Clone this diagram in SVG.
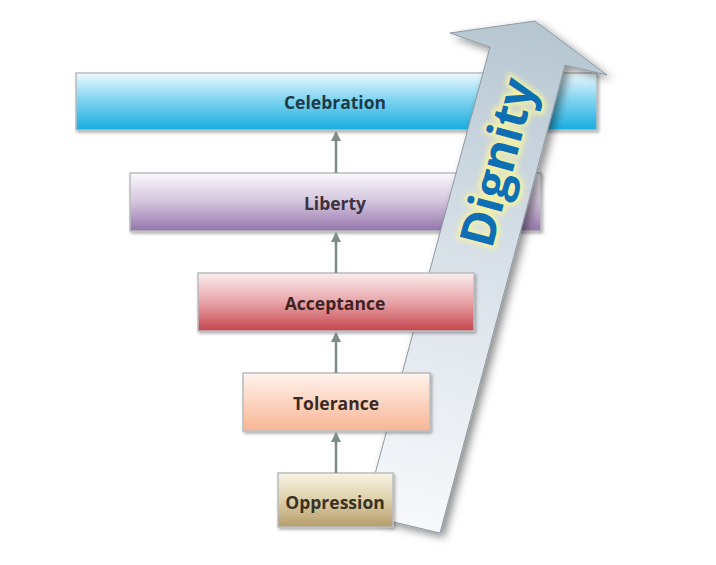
<svg xmlns="http://www.w3.org/2000/svg" width="716" height="565" viewBox="0 0 716 565">
<defs>
<style>
.lbl{font-family:"Open Sans","Liberation Sans",sans-serif;font-weight:bold;font-size:17.5px;text-anchor:middle;dominant-baseline:central}
.box{stroke:#b9bcbf;stroke-width:1.5}
.conn{stroke:#7d8b8b;stroke-width:2.5;fill:none}
.dg{font-family:"Open Sans","Liberation Sans",sans-serif;font-weight:bold;font-size:48px;text-anchor:middle;dominant-baseline:central}
</style>
<linearGradient id="gCel" x1="0" y1="0" x2="0" y2="1"><stop offset="0" stop-color="#eef9fd"/><stop offset="0.45" stop-color="#84d5f1"/><stop offset="1" stop-color="#16ade0"/></linearGradient>
<linearGradient id="gLib" x1="0" y1="0" x2="0" y2="1"><stop offset="0" stop-color="#fbf9fc"/><stop offset="0.5" stop-color="#d3c4dc"/><stop offset="1" stop-color="#9474ab"/></linearGradient>
<linearGradient id="gAcc" x1="0" y1="0" x2="0" y2="1"><stop offset="0" stop-color="#fbeeee"/><stop offset="0.5" stop-color="#e7a4a8"/><stop offset="1" stop-color="#c6454d"/></linearGradient>
<linearGradient id="gTol" x1="0" y1="0" x2="0" y2="1"><stop offset="0" stop-color="#fff4ee"/><stop offset="1" stop-color="#f8b594"/></linearGradient>
<linearGradient id="gOpp" x1="0" y1="0" x2="0" y2="1"><stop offset="0" stop-color="#f8f4e4"/><stop offset="0.5" stop-color="#ddd0aa"/><stop offset="1" stop-color="#b59c69"/></linearGradient>
<linearGradient id="gArr" gradientUnits="userSpaceOnUse" x1="530" y1="30" x2="400" y2="530"><stop offset="0" stop-color="#b7c7d2"/><stop offset="0.5" stop-color="#dbe3ea"/><stop offset="1" stop-color="#f8f9fb"/></linearGradient>
<filter id="sh" x="-20%" y="-20%" width="140%" height="160%"><feDropShadow dx="1.5" dy="2" stdDeviation="1.5" flood-color="#000" flood-opacity="0.3"/></filter>
<filter id="ash" x="-30%" y="-10%" width="160%" height="120%"><feDropShadow dx="4" dy="4" stdDeviation="4" flood-color="#000" flood-opacity="0.45"/></filter>
<filter id="glow" x="-20%" y="-50%" width="140%" height="200%"><feGaussianBlur stdDeviation="2.5"/></filter>
<marker id="ah" viewBox="0 0 10 10" refX="9" refY="5" markerWidth="4" markerHeight="4" orient="auto"><path d="M0,0 L10,5 L0,10 z" fill="#7d8b8b"/></marker>
</defs>
<rect width="716" height="565" fill="#ffffff"/>
<g id="celebration">
<rect class="box" x="76" y="73" width="521" height="57" fill="url(#gCel)" filter="url(#sh)"/>
<text class="lbl" x="335" y="102" fill="#1d3a48">Celebration</text>
</g>
<g id="liberty">
<rect class="box" x="130" y="173" width="411" height="58" fill="url(#gLib)" filter="url(#sh)"/>
<text class="lbl" x="335" y="203" fill="#3b3240">Liberty</text>
</g>
<g id="dignity">
<polygon points="490,47 450,33 535,21 607,75 565,65 440,533 364,515" fill="url(#gArr)" stroke="#8e9aa3" stroke-width="1" filter="url(#ash)"/>
<g transform="translate(496,162) rotate(-75)">
<text class="dg" x="0" y="0" fill="#f3f1a6" stroke="#f3f1a6" stroke-width="6" filter="url(#glow)">Dignity</text>
<text class="dg" x="0" y="0" fill="#0f6fb5">Dignity</text>
</g>
</g>
<g id="acceptance">
<rect class="box" x="198" y="273" width="276" height="58" fill="url(#gAcc)" filter="url(#sh)"/>
<text class="lbl" x="335" y="303" fill="#3f2222">Acceptance</text>
</g>
<g id="tolerance">
<rect class="box" x="243" y="373" width="187" height="58" fill="url(#gTol)" filter="url(#sh)"/>
<text class="lbl" x="336" y="403" fill="#3a2a22">Tolerance</text>
</g>
<g id="oppression">
<rect class="box" x="278" y="473" width="115" height="54" fill="url(#gOpp)" filter="url(#sh)"/>
<text class="lbl" x="335" y="502" fill="#3a3222">Oppression</text>
</g>
<g id="connectors">
<line class="conn" x1="336" y1="173" x2="336" y2="132" marker-end="url(#ah)"/>
<line class="conn" x1="336" y1="273" x2="336" y2="233" marker-end="url(#ah)"/>
<line class="conn" x1="336" y1="373" x2="336" y2="333" marker-end="url(#ah)"/>
<line class="conn" x1="336" y1="473" x2="336" y2="433" marker-end="url(#ah)"/>
</g>
</svg>
